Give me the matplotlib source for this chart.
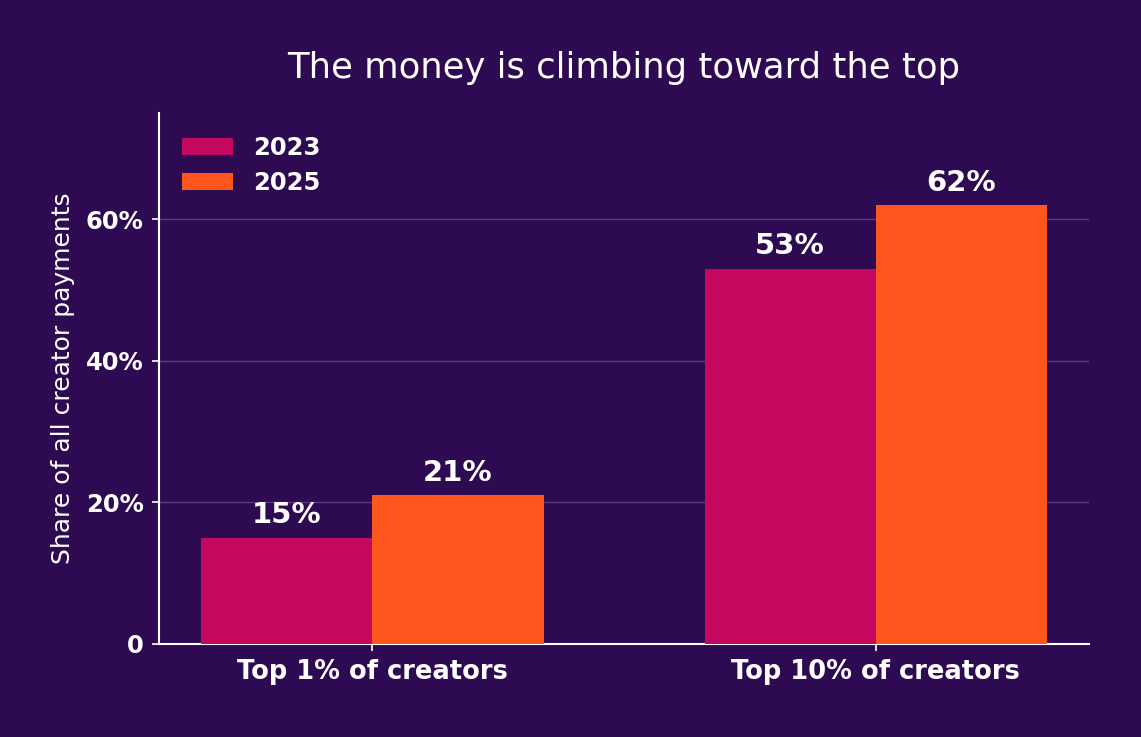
import matplotlib
matplotlib.use("Agg")
import matplotlib.pyplot as plt
from matplotlib.ticker import FuncFormatter
import numpy as np

categories = ["Top 1% of creators", "Top 10% of creators"]
years = ["2023", "2025"]
share_2023 = [15, 53]
share_2025 = [21, 62]

bg = "#2E0A52"
c2023 = "#C5085F"
c2025 = "#FF561E"

fig, ax = plt.subplots(figsize=(11.41, 7.37), dpi=100)
fig.patch.set_facecolor(bg)
ax.set_facecolor(bg)
fig.subplots_adjust(left=0.1394, right=0.9545, top=0.8467, bottom=0.1262)

x = np.arange(len(categories))
w = 0.34
b1 = ax.bar(x - w / 2, share_2023, w, color=c2023, label=years[0], zorder=3)
b2 = ax.bar(x + w / 2, share_2025, w, color=c2025, label=years[1], zorder=3)

for bars in (b1, b2):
    for r in bars:
        ax.text(r.get_x() + r.get_width() / 2, r.get_height() + 1.2,
                f"{r.get_height():.0f}%", ha="center", va="bottom",
                color="white", fontsize=21, fontweight="bold")

ax.set_ylim(0, 75)
ax.set_yticks([0, 20, 40, 60])
ax.yaxis.set_major_formatter(FuncFormatter(lambda v, p: "0" if v == 0 else f"{v:.0f}%"))
ax.set_xticks(x)
ax.set_xticklabels(categories)
ax.grid(axis="y", color="#5A3A7A", linewidth=1, zorder=0)

for s in ("top", "right"):
    ax.spines[s].set_visible(False)
for s in ("left", "bottom"):
    ax.spines[s].set_color("white")
    ax.spines[s].set_linewidth(1.5)

ax.tick_params(colors="white", width=1.2, length=5)
ax.tick_params(axis="y", pad=6)
ax.tick_params(axis="x", pad=6)
for lbl in ax.get_yticklabels():
    lbl.set_fontsize(17.5)
    lbl.set_fontweight("bold")
for lbl in ax.get_xticklabels():
    lbl.set_fontsize(18.5)
    lbl.set_fontweight("bold")

ax.set_ylabel("Share of all creator payments", color="white", fontsize=18, labelpad=8)
ax.set_title("The money is climbing toward the top", color="white", fontsize=25.5, pad=25)

leg = ax.legend(loc="upper left", frameon=False, prop={"size": 17.5, "weight": "bold"},
                handlelength=2.1, handleheight=0.7, borderaxespad=0.55, labelspacing=0.45)
for t in leg.get_texts():
    t.set_color("white")

fig.savefig("out.png", dpi=100, facecolor=bg)
